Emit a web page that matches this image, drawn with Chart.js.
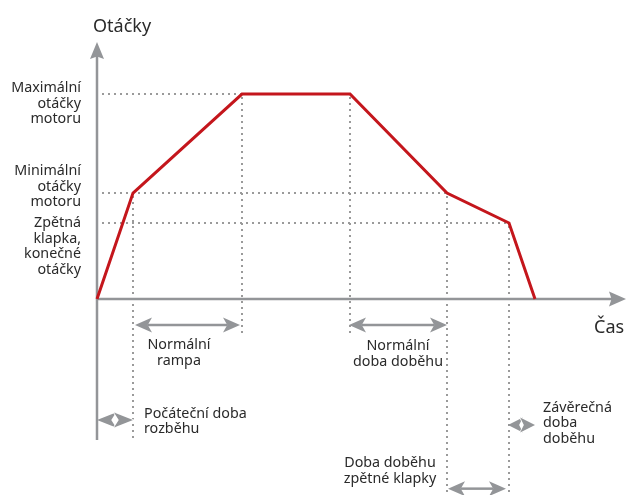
<!DOCTYPE html>
<html>
<head>
<meta charset="utf-8">
<script src="https://cdn.jsdelivr.net/npm/chart.js@4"></script>
<style>
  html, body { margin: 0; padding: 0; background: #fff; }
  #wrap { width: 626px; height: 495px; position: relative; }
</style>
</head>
<body>
<div id="wrap"><canvas id="chart"></canvas></div>
<script>
// průběh otáček v čase (čas v libovolných jednotkách, otáčky v % max.)
const times  = [0, 3.6, 14.5, 25.3, 35.0, 41.2, 43.8];
const speeds = [0, 51.7, 100, 100, 51.7, 37.1, 0];

// hladiny otáček a jejich popisky vlevo
const levelValues = [100, 51.7, 37.1];
const levelEnds   = [14.5, 35.0, 41.2];
const levelLabels = [
  ['Maximální', 'otáčky', 'motoru'],
  ['Minimální', 'otáčky', 'motoru'],
  ['Zpětná', 'klapka,', 'konečné', 'otáčky']
];
const levelLabelY = [101.0, 60.5, 35.1];

// svislé pomocné čáry: čas, odkud, kam
const guideTimes  = [3.6, 14.5, 25.3, 35.0, 41.2];
const guideTops   = [51.7, 100, 100, 51.7, 37.1];
const guideBottoms = [-68.8, -16.6, -16.6, -95.6, -95.6];

// úseky s oboustrannou šipkou: od, do, výška
const spanFrom = [3.8, 25.2, 0, 41.1, 35.1];
const spanTo   = [14.3, 35.0, 3.6, 43.8, 40.9];
const spanY    = [-12.7, -12.7, -59.0, -61.5, -92.5];

// popisky úseků
const spanLabels = [
  ['Normální', 'rampa'],
  ['Normální', 'doba doběhu'],
  ['Počáteční doba', 'rozběhu'],
  ['Závěrečná', 'doba', 'doběhu'],
  ['Doba doběhu', 'zpětné klapky']
];
const spanLabelX = [8.2, 30.1, 4.7, 44.6, 29.3];
const spanLabelY = [-24.4, -24.9, -58.0, -55.1, -82.0];
const spanLabelAlign = ['center', 'center', 'left', 'left', 'center'];

const yAxisBottom = -68.8;

const GRAY = '#939598';
const TEXT = '#2a2a2a';
const RED = '#c4161c';

function arrowHead(ctx, tipX, tipY, dx, dy, len, half, notch) {
  // dx,dy = jednotkový směr šipky; notch = prohnutí zadní strany
  const bx = tipX - dx * len, by = tipY - dy * len;
  const nx = tipX - dx * len * (1 - notch), ny = tipY - dy * len * (1 - notch);
  ctx.beginPath();
  ctx.moveTo(tipX, tipY);
  ctx.lineTo(bx - dy * half, by + dx * half);
  ctx.lineTo(nx, ny);
  ctx.lineTo(bx + dy * half, by - dx * half);
  ctx.closePath();
  ctx.fill();
}

const diagram = {
  id: 'diagram',
  beforeDatasetsDraw(chart) {
    const { ctx, scales: { x, y } } = chart;
    ctx.save();

    // tečkované pomocné čáry
    ctx.strokeStyle = '#9a9a9a';
    ctx.lineWidth = 2;
    ctx.setLineDash([2, 4]);
    levelValues.forEach((v, i) => {
      const py = Math.round(y.getPixelForValue(v));
      ctx.beginPath();
      ctx.moveTo(x.getPixelForValue(0.5), py);
      ctx.lineTo(x.getPixelForValue(levelEnds[i]), py);
      ctx.stroke();
    });
    guideTimes.forEach((t, i) => {
      const px = Math.round(x.getPixelForValue(t));
      ctx.beginPath();
      ctx.moveTo(px, y.getPixelForValue(guideTops[i]) + 3);
      ctx.lineTo(px, y.getPixelForValue(guideBottoms[i]));
      ctx.stroke();
    });
    ctx.setLineDash([]);

    // osy se šipkami
    ctx.strokeStyle = GRAY;
    ctx.fillStyle = GRAY;
    ctx.lineWidth = 2.5;
    const ox = x.getPixelForValue(0), oy = y.getPixelForValue(0);
    const yTop = y.getPixelForValue(y.max);
    const xEnd = x.getPixelForValue(x.max);
    ctx.beginPath();
    ctx.moveTo(ox, y.getPixelForValue(yAxisBottom));
    ctx.lineTo(ox, yTop + 12);
    ctx.moveTo(ox, oy);
    ctx.lineTo(xEnd - 12, oy);
    ctx.stroke();
    arrowHead(ctx, ox, yTop, 0, -1, 17, 7, 0.15);
    arrowHead(ctx, xEnd, oy, 1, 0, 17, 7.5, 0.15);

    // oboustranné šipky
    ctx.lineWidth = 2.5;
    spanFrom.forEach((t0, i) => {
      const x0 = x.getPixelForValue(t0), x1 = x.getPixelForValue(spanTo[i]);
      const py = y.getPixelForValue(spanY[i]);
      const short = (x1 - x0) < 40;
      const len = short ? Math.min(19, (x1 - x0) * 0.55) : 17;
      if (!short) {
        ctx.beginPath();
        ctx.moveTo(x0 + len - 4, py);
        ctx.lineTo(x1 - len + 4, py);
        ctx.stroke();
      }
      arrowHead(ctx, x0, py, -1, 0, len, 7.5, 0.25);
      if (short) {
        // překrývající se hroty oddělené bílým obrysem
        ctx.save();
        ctx.strokeStyle = '#fff';
        ctx.lineWidth = 1.5;
        arrowHead(ctx, x1, py, 1, 0, len, 7.5, 0.25);
        ctx.stroke();
        ctx.restore();
        arrowHead(ctx, x1, py, 1, 0, len, 7.5, 0.25);
      } else {
        arrowHead(ctx, x1, py, 1, 0, len, 7.5, 0.25);
      }
    });
    ctx.restore();
  },
  afterDraw(chart) {
    const { ctx, scales: { x, y } } = chart;
    ctx.save();
    ctx.fillStyle = TEXT;
    ctx.textBaseline = 'alphabetic';
    const lh = 15.5;

    ctx.font = '14.3px "Noto Sans"';
    ctx.textAlign = 'right';
    levelLabels.forEach((lines, i) => {
      const py = y.getPixelForValue(levelLabelY[i]);
      lines.forEach((s, j) => ctx.fillText(s, x.getPixelForValue(-1.6), py + j * lh));
    });

    spanLabels.forEach((lines, i) => {
      ctx.textAlign = spanLabelAlign[i];
      const px = x.getPixelForValue(spanLabelX[i]);
      const py = y.getPixelForValue(spanLabelY[i]);
      lines.forEach((s, j) => ctx.fillText(s, px, py + j * lh));
    });

    // názvy os
    ctx.font = '18px "Noto Sans"';
    ctx.textAlign = 'left';
    ctx.fillText('Otáčky', x.getPixelForValue(-0.4), y.getPixelForValue(130.2));
    ctx.fillText('Čas', x.getPixelForValue(49.7), y.getPixelForValue(-16.6));
    ctx.restore();
  }
};

new Chart(document.getElementById('chart'), {
  type: 'line',
  data: {
    datasets: [{
      data: times.map((t, i) => ({ x: t, y: speeds[i] })),
      borderColor: RED,
      borderWidth: 3,
      pointRadius: 0,
      tension: 0,
      fill: false,
      clip: false,
      borderJoinStyle: 'miter'
    }]
  },
  options: {
    responsive: true,
    maintainAspectRatio: false,
    animation: false,
    layout: { padding: { left: 97, right: 0, top: 42, bottom: 0 } },
    plugins: { legend: { display: false }, tooltip: { enabled: false } },
    scales: {
      x: { type: 'linear', min: 0, max: 52.9, display: false },
      y: { type: 'linear', min: -95.6, max: 125.4, display: false }
    }
  },
  plugins: [diagram]
});
</script>
</body>
</html>
